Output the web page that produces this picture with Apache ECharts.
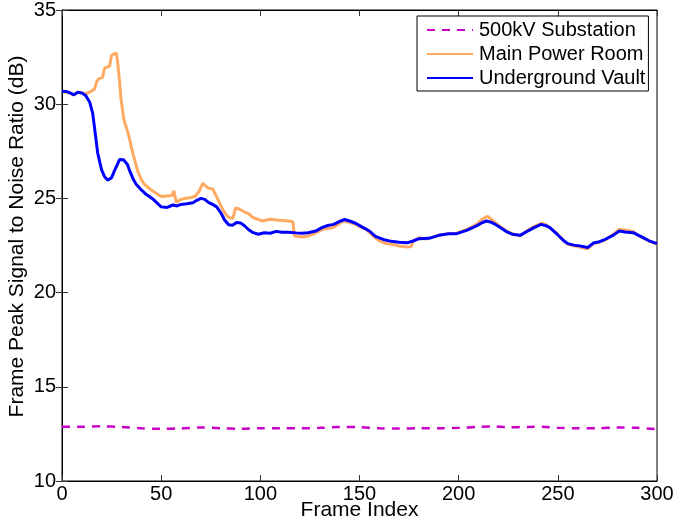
<!DOCTYPE html>
<html><head><meta charset="utf-8">
<script src="https://cdn.jsdelivr.net/npm/echarts@6/dist/echarts.min.js"></script>
<style>html,body{margin:0;padding:0;background:#fff}#c{width:675px;height:523px}</style>
</head><body><div id="c"></div>
<script>
const seriesNames = ['500kV Substation', 'Main Power Room', 'Underground Vault'];
const xTicks = [0, 50, 100, 150, 200, 250, 300];
const yTicks = [10, 15, 20, 25, 30, 35];

const substationFrames = [0,10,20,30,40,50,60,70,80,90,100,110,120,130,140,150,160,170,180,190,200,210,218,225,235,242,250,260,270,280,290,300];
const substationSnr = [12.88,12.88,12.9,12.87,12.8,12.77,12.79,12.84,12.8,12.77,12.8,12.8,12.8,12.82,12.87,12.86,12.8,12.78,12.8,12.8,12.82,12.87,12.9,12.85,12.87,12.88,12.82,12.8,12.8,12.84,12.82,12.75];

const powerFrames = [0,4,6,8,10,12,14,16.4,17.5,18.5,20.5,21.4,24,25,27.3,28,29,29.8,31.2,33.5,35.7,38.2,40,41.6,45,50,55.5,56.4,57.6,60,62,65,67,69,71,72,73.5,76,77,78.6,81,83,84.5,86.2,87.5,89,91.2,94.6,96,98.8,101,103,105.5,108,111,114,116.4,117.2,121.4,124,126.5,129,131.5,134,136.6,139,141.6,144,146.6,150,153.4,157,160.1,163,166.8,170,174,176,177,180.3,183.6,187,190.4,194.6,199,204,209,212,214.5,217,221,224,227,231,235,238,241.6,244,246,250,253,255,258,261,265,268,271,274,278,281,284,288,291,293,296,300];
const powerSnr = [30.67,30.6,30.5,30.63,30.6,30.55,30.65,30.8,31.2,31.35,31.43,31.9,32.03,32.6,32.73,32.3,31.2,30.23,29.18,28.4,27.4,26.44,26.0,25.74,25.44,25.1,25.15,25.4,24.8,24.95,25.0,25.05,25.1,25.35,25.8,25.7,25.56,25.5,25.45,24.95,24.42,24.1,23.97,23.95,24.5,24.45,24.33,24.15,24.0,23.89,23.8,23.85,23.89,23.85,23.83,23.8,23.76,23.0,22.95,23.0,23.1,23.22,23.36,23.4,23.45,23.6,23.8,23.75,23.68,23.5,23.36,23.0,22.74,22.62,22.55,22.47,22.42,22.44,22.74,22.92,22.84,22.95,23.06,23.13,23.15,23.35,23.62,23.9,24.05,23.85,23.5,23.28,23.12,23.02,23.32,23.5,23.68,23.6,23.45,23.1,22.75,22.58,22.48,22.42,22.32,22.6,22.68,22.8,23.1,23.35,23.32,23.25,23.0,22.9,22.73,22.58];

const vaultFrames = [0,2,4,6,8,10,12,14,15.5,16.7,18,20,21.5,23,25,27,29,31,33,34,36,37.5,40,42,44,46,48,50,53,56,58,60,63,66,68,70,72,74,76,78,80,82,84,86,88,90,92,94,96,99,102,105,108,111,114,118,121,124,128,131,134,137,140,142.5,145,148,151,155,158,162,166,170,174,177,180,185,190,195,199,204,209,212,214,216,218,221,224,227,231,235,238,241.6,244,246,250,253,255,258,261,265,268,271,274,278,281,284,288,291,293,296,300];
const vaultSnr = [30.67,30.68,30.6,30.5,30.63,30.6,30.45,30.1,29.5,28.5,27.4,26.5,26.15,25.97,26.1,26.6,27.06,27.05,26.8,26.5,26.0,25.74,25.45,25.25,25.1,24.95,24.75,24.55,24.52,24.65,24.6,24.68,24.72,24.77,24.9,25.0,24.95,24.78,24.68,24.55,24.25,23.85,23.6,23.57,23.72,23.7,23.55,23.35,23.2,23.1,23.18,23.15,23.25,23.2,23.2,23.17,23.15,23.18,23.27,23.45,23.56,23.62,23.78,23.88,23.8,23.68,23.5,23.27,22.98,22.82,22.72,22.67,22.64,22.74,22.86,22.88,23.04,23.12,23.13,23.3,23.54,23.72,23.8,23.75,23.65,23.45,23.24,23.1,23.04,23.28,23.45,23.62,23.55,23.45,23.06,22.75,22.6,22.52,22.48,22.39,22.63,22.7,22.83,23.05,23.27,23.22,23.18,23.02,22.92,22.75,22.6];

const zip = (xs, ys) => xs.map((x, i) => [x, ys[i]]);
const FONT = 'Liberation Sans';

const chart = echarts.init(document.getElementById('c'), null, {renderer: 'canvas'});
const axisCommon = {
  axisLine: {show: true, lineStyle: {color: '#000', width: 1}},
  axisTick: {show: true, inside: true, length: 6, lineStyle: {color: '#333'}},
  splitLine: {show: false}
};
chart.setOption({
  animation: false,
  backgroundColor: '#fff',
  textStyle: {fontFamily: FONT},
  grid: {left: 62, right: 18, top: 10, bottom: 42, containLabel: false, outerBoundsMode: 'none',
    show: true, borderColor: '#000', borderWidth: 1},
  legend: {
    orient: 'vertical', left: 417, top: 16,
    data: seriesNames,
    backgroundColor: '#fff', borderColor: '#000', borderWidth: 1,
    padding: [4, 3, 3, 9], itemGap: 4,
    itemWidth: 46, itemHeight: 14,
    itemStyle: {opacity: 0},
    textStyle: {fontFamily: FONT, fontSize: 20, lineHeight: 20, color: '#000', padding: [0, 0, 0, 1]}
  },
  xAxis: [
    Object.assign({type: 'value', min: xTicks[0], max: xTicks[xTicks.length - 1], interval: 50,
      name: 'Frame Index', nameLocation: 'middle', nameGap: 19, nameMoveOverlap: false,
      nameTextStyle: {fontFamily: FONT, fontSize: 21, lineHeight: 21, color: '#000', verticalAlign: 'top'},
      axisLabel: {fontFamily: FONT, fontSize: 20, color: '#000', margin: 3}}, axisCommon),
    Object.assign({type: 'value', position: 'top', min: xTicks[0], max: xTicks[xTicks.length - 1], interval: 50,
      axisLabel: {show: false}}, axisCommon)
  ],
  yAxis: [
    Object.assign({type: 'value', min: yTicks[0], max: yTicks[yTicks.length - 1], interval: 5,
      name: 'Frame Peak Signal to Noise Ratio (dB)', nameLocation: 'middle', nameGap: 34, nameMoveOverlap: false,
      nameTextStyle: {fontFamily: FONT, fontSize: 21, color: '#000', padding: [0, 0, 0, 18]},
      axisLabel: {fontFamily: FONT, fontSize: 20, color: '#000', margin: 6}}, axisCommon),
    Object.assign({type: 'value', position: 'right', min: yTicks[0], max: yTicks[yTicks.length - 1], interval: 5,
      axisLabel: {show: false}}, axisCommon)
  ],
  series: [
    {name: seriesNames[0], type: 'line', data: zip(substationFrames, substationSnr), showSymbol: false, symbol: 'none',
      smooth: 0.3, lineStyle: {color: '#C800C8', width: 2.5, type: [8, 7]}, itemStyle: {color: '#C800C8'}, z: 3},
    {name: seriesNames[1], type: 'line', data: zip(powerFrames, powerSnr), showSymbol: false, symbol: 'none',
      lineStyle: {color: '#FFAA62', width: 3}, itemStyle: {color: '#FFAA62'}, z: 4},
    {name: seriesNames[2], type: 'line', data: zip(vaultFrames, vaultSnr), showSymbol: false, symbol: 'none',
      lineStyle: {color: '#0000FF', width: 3}, itemStyle: {color: '#0000FF'}, z: 5}
  ]
});
</script></body></html>
